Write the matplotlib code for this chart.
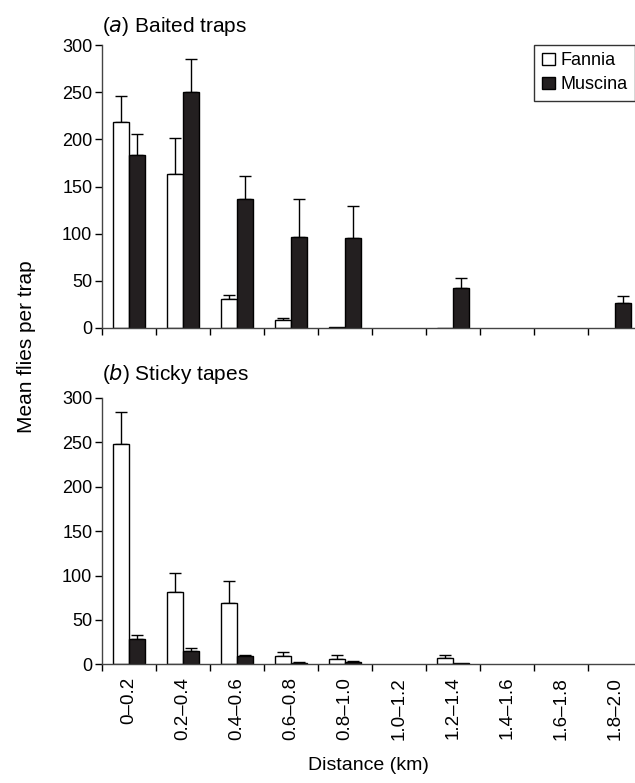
import matplotlib
matplotlib.use("Agg")
import matplotlib.pyplot as plt
import numpy as np
from matplotlib.patches import Patch

plt.rcParams['font.family'] = ['Liberation Sans', 'DejaVu Sans']

categories = ["0\u20130.2", "0.2\u20130.4", "0.4\u20130.6", "0.6\u20130.8", "0.8\u20131.0",
              "1.0\u20131.2", "1.2\u20131.4", "1.4\u20131.6", "1.6\u20131.8", "1.8\u20132.0"]

# (a) Baited traps
baited_fannia = [218, 163, 31, 8, 1, 0, 0.5, 0, 0, 0]
baited_fannia_err = [28, 38, 4, 3, 0, 0, 0, 0, 0, 0]
baited_muscina = [183, 250, 137, 96, 95, 0, 42, 0, 0, 26]
baited_muscina_err = [23, 35, 24, 41, 34, 0, 11, 0, 0, 8]

# (b) Sticky tapes
sticky_fannia = [248, 82, 69, 9, 6, 0, 7, 0, 0, 0]
sticky_fannia_err = [36, 21, 25, 5, 4, 0, 3, 0, 0, 0]
sticky_muscina = [28, 15, 9, 2, 3, 0, 1, 0, 0, 0]
sticky_muscina_err = [5, 3, 2, 0.5, 1, 0, 0, 0, 0, 0]

DARK = "#231f20"
FS = 13

fig = plt.figure(figsize=(6.35, 7.83), dpi=100)
W = 635.0
H = 783.0
left = 102 / W
width = 1 - left
ax1 = fig.add_axes([left, 1 - 328 / H, width, 283 / H])
ax2 = fig.add_axes([left, 1 - 664.3 / H, width, 266.3 / H])

x = np.arange(len(categories))
bw = 0.3

def draw(ax, f, fe, m, me, title_letter, title_rest, pad):
    lw_f = [1.0 if v > 0 else 0.0 for v in f]
    lw_m = [1.0 if v > 0 else 0.0 for v in m]
    ax.bar(x + 0.35, f, width=bw, color="white", edgecolor="black", linewidth=lw_f, zorder=2)
    ax.bar(x + 0.65, m, width=bw, color=DARK, edgecolor="black", linewidth=lw_m, zorder=2)
    for xi, v, e in zip(x + 0.35, f, fe):
        if e > 0:
            ax.errorbar([xi], [v], yerr=[[0], [e]], fmt='none', ecolor='black',
                        elinewidth=1.0, capsize=4, capthick=1.0, zorder=1)
    for xi, v, e in zip(x + 0.65, m, me):
        if e > 0:
            ax.errorbar([xi], [v], yerr=[[0], [e]], fmt='none', ecolor='black',
                        elinewidth=1.0, capsize=4, capthick=1.0, zorder=1)
    ax.set_xlim(0, (W - 102) / 54.0)
    ax.set_ylim(0, 300)
    ax.set_yticks([0, 50, 100, 150, 200, 250, 300])
    ax.set_xticks(np.arange(0, 10))
    ax.set_xticks(x + 0.5, minor=True)
    ax.tick_params(axis='x', which='major', length=5, width=1, labelbottom=False, direction='out')
    ax.tick_params(axis='x', which='minor', length=0)
    ax.tick_params(axis='y', length=5, width=1, labelsize=FS, direction='out', pad=2)
    for s in ['top', 'right']:
        ax.spines[s].set_visible(False)
    for s in ['left', 'bottom']:
        ax.spines[s].set_linewidth(1.0)
        ax.spines[s].set_color('#444444')
    ax.set_title("(" + "$\\it{" + title_letter + "}$" + ") " + title_rest, loc='left',
                 fontsize=15, pad=pad)

draw(ax1, baited_fannia, baited_fannia_err, baited_muscina, baited_muscina_err, "a", "Baited traps", 9)
draw(ax2, sticky_fannia, sticky_fannia_err, sticky_muscina, sticky_muscina_err, "b", "Sticky tapes", 13)

ax2.set_xticklabels(categories, minor=True, rotation=90, fontsize=13.5)
ax2.tick_params(axis='x', which='minor', labelbottom=True, pad=9)

handles = [Patch(facecolor='white', edgecolor='black', label='Fannia'),
           Patch(facecolor=DARK, edgecolor='black', label='Muscina')]
leg = ax1.legend(handles=handles, loc='upper right', bbox_to_anchor=(1.0, 1.0),
                 borderaxespad=0.0, fontsize=FS, frameon=True, fancybox=False,
                 handlelength=0.75, handleheight=0.7, handletextpad=0.3,
                 borderpad=0.4, labelspacing=0.4)
leg.get_frame().set_edgecolor('black')
leg.get_frame().set_linewidth(1.0)

fig.text(27 / W, 1 - 347 / H, "Mean flies per trap", rotation=90, fontsize=15,
         ha='center', va='center')
fig.text((102 + 635) / 2 / W, 1 - 765 / H, "Distance (km)", fontsize=14, ha='center', va='center')

fig.savefig("out.png", dpi=100)
